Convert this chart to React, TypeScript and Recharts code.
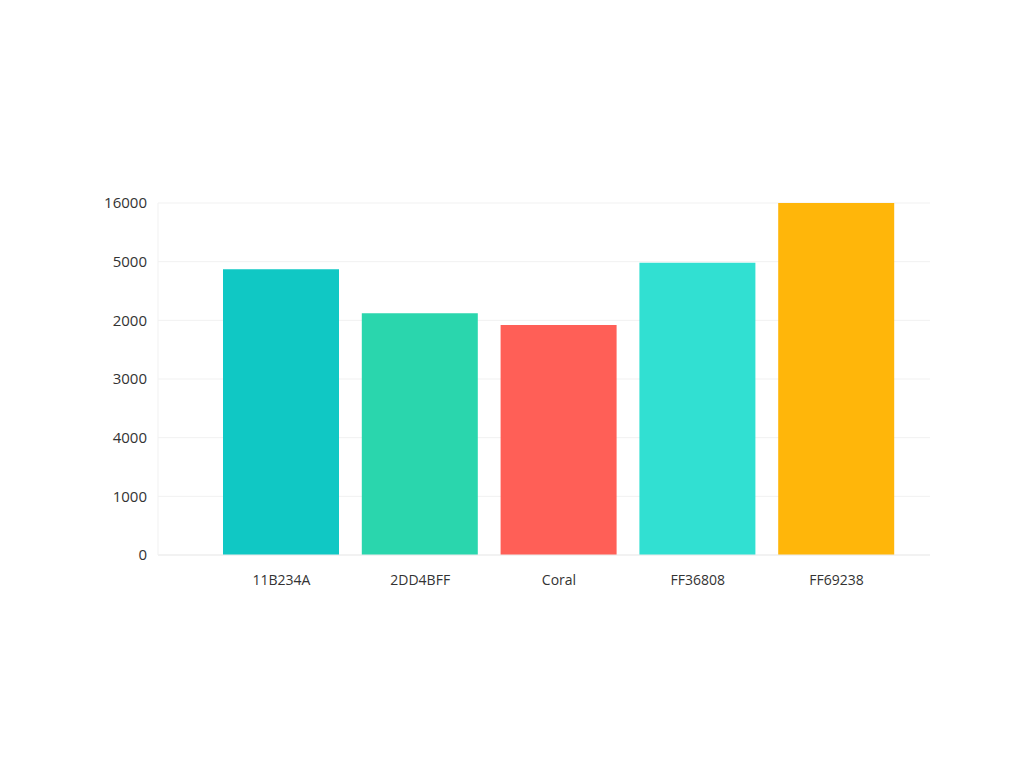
import { BarChart, Bar, XAxis, YAxis, CartesianGrid, Cell } from "recharts";

const categories = ["11B234A", "2DD4BFF", "Coral", "FF36808", "FF69238"];
const values = [4870, 4120, 3920, 4980, 6000];
const colors = ["#10C8C4", "#2AD6AD", "#FF5F57", "#31E0D2", "#FFB60A"];
const yTicks = [0, 1000, 2000, 3000, 4000, 5000, 6000];
const yTickLabels = ["0", "1000", "4000", "3000", "2000", "5000", "16000"];

const data = categories.map((name, i) => ({ name, value: values[i] }));

export default () => {
  return (
    <div style={{ width: 1008, height: 752, background: "#fff", fontFamily: "'Open Sans', sans-serif" }}>
      <BarChart
        width={1008}
        height={752}
        data={data}
        margin={{ top: 195, right: 86, bottom: 0, left: 0 }}
      >
        <CartesianGrid vertical={false} stroke="#f1f1f1" />
        <XAxis
          dataKey="name"
          height={205}
          padding={{ left: 54, right: 24 }}
          tickLine={false}
          tickSize={0}
          tickMargin={20}
          axisLine={{ stroke: "#ececec" }}
          tick={{ fill: "#333", fontSize: 14 }}
        />
        <YAxis
          width={150}
          domain={[0, 6000]}
          ticks={yTicks}
          interval={0}
          tickLine={false}
          tickSize={9}
          tickMargin={2}
          axisLine={{ stroke: "#f1f1f1" }}
          tick={{ fill: "#333", fontSize: 15 }}
          tickFormatter={(v: number) => yTickLabels[yTicks.indexOf(v)]}
        />
        <Bar dataKey="value" barSize={116} isAnimationActive={false}>
          {data.map((d, i) => (
            <Cell key={d.name} fill={colors[i]} />
          ))}
        </Bar>
      </BarChart>
    </div>
  );
};
